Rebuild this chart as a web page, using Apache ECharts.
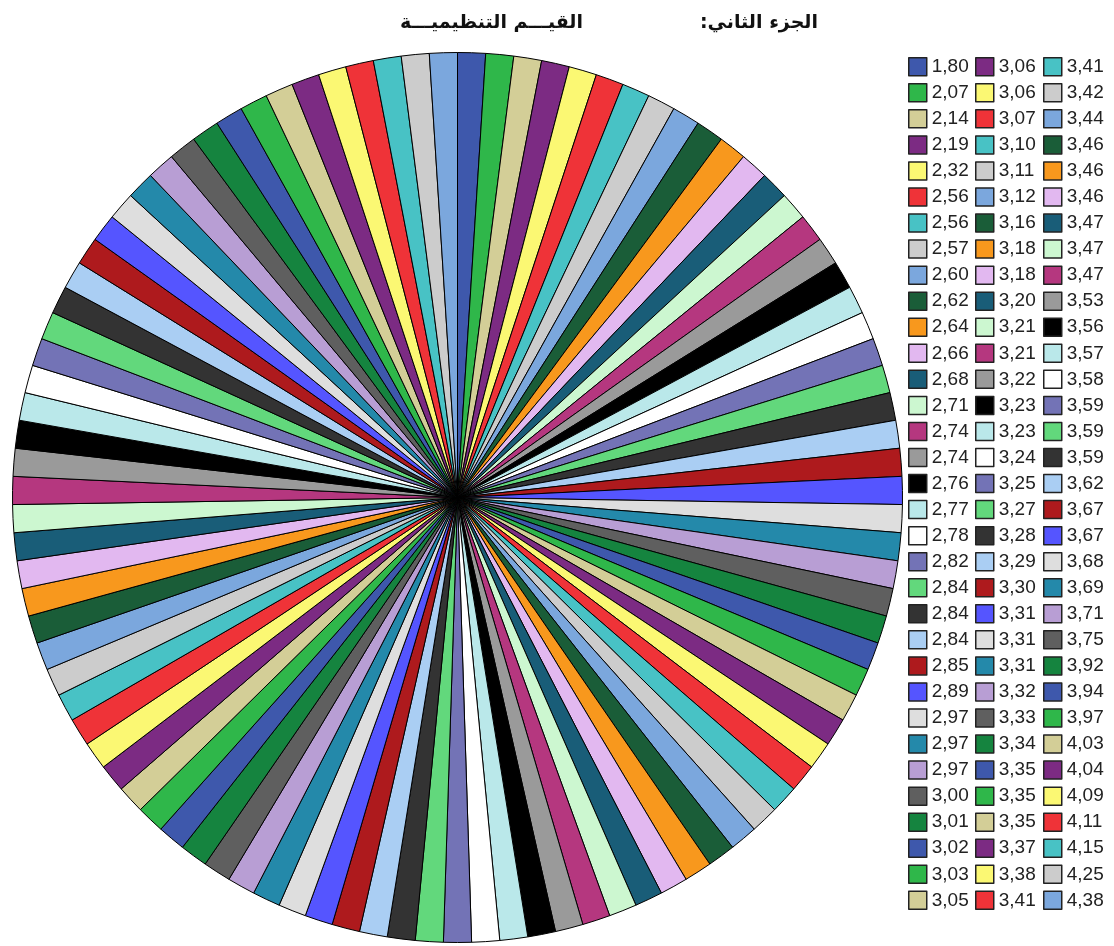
<!DOCTYPE html>
<html>
<head>
<meta charset="utf-8">
<script src="https://cdn.jsdelivr.net/npm/echarts@6/dist/echarts.min.js"></script>
<style>
html,body{margin:0;padding:0;background:#fff;}
#chart{width:1114px;height:946px;}
</style>
</head>
<body>
<div id="chart"></div>
<script>
// ---- data ----
const titleRight = "الجزء الثاني:";
const titleLeft = "القيـــم التنظيميـــة";

// values shown in the legend, in slice order (clockwise from 12 o'clock)
const values = [
  1.80, 2.07, 2.14, 2.19, 2.32, 2.56, 2.56, 2.57, 2.60, 2.62, 2.64,
  2.66, 2.68, 2.71, 2.74, 2.74, 2.76, 2.77, 2.78, 2.82, 2.84, 2.84,
  2.84, 2.85, 2.89, 2.97, 2.97, 2.97, 3.00, 3.01, 3.02, 3.03, 3.05,
  3.06, 3.06, 3.07, 3.10, 3.11, 3.12, 3.16, 3.18, 3.18, 3.20, 3.21,
  3.21, 3.22, 3.23, 3.23, 3.24, 3.25, 3.27, 3.28, 3.29, 3.30, 3.31,
  3.31, 3.31, 3.32, 3.33, 3.34, 3.35, 3.35, 3.35, 3.37, 3.38, 3.41,
  3.41, 3.42, 3.44, 3.46, 3.46, 3.46, 3.47, 3.47, 3.47, 3.53, 3.56,
  3.57, 3.58, 3.59, 3.59, 3.59, 3.62, 3.67, 3.67, 3.68, 3.69, 3.71,
  3.75, 3.92, 3.94, 3.97, 4.03, 4.04, 4.09, 4.11, 4.15, 4.25, 4.38
];
// each slice is one case (count = 1)
const counts = [
  1,1,1,1,1,1,1,1,1,1,1, 1,1,1,1,1,1,1,1,1,1,1, 1,1,1,1,1,1,1,1,1,1,1,
  1,1,1,1,1,1,1,1,1,1,1, 1,1,1,1,1,1,1,1,1,1,1, 1,1,1,1,1,1,1,1,1,1,1,
  1,1,1,1,1,1,1,1,1,1,1, 1,1,1,1,1,1,1,1,1,1,1, 1,1,1,1,1,1,1,1,1,1,1
];
// SPSS-like cycling palette (30 colours)
const palette = [
  '#3E58AC','#2FB74A','#D3CE97','#7C2B83','#FBF873','#EF3338','#48C2C5','#CCCCCC',
  '#7BA7DD','#1A5D38','#F8981D','#E2B8F0','#195D78','#CCF7D0','#B5377F','#9A9A9A',
  '#000000','#BAE8EA','#FFFFFF','#7373B6','#62D87C','#333333','#AACEF3','#AE1A1D',
  '#5555FF','#DEDEDE','#2489AA','#B89ED4','#5F5F5F','#15843F'
];
const rowsPerColumn = 33;

// ---- build ----
function fmt(v){ return v.toFixed(2).replace('.', ','); }
const seen = {};
const names = values.map(v => {
  const base = fmt(v);
  seen[base] = (seen[base] || 0) + 1;
  return base + '\u200B'.repeat(seen[base] - 1); // keep duplicate labels distinct
});
const pieData = values.map((v, i) => ({
  name: names[i],
  value: counts[i],
  itemStyle: { color: palette[i % palette.length] }
}));

const legendLefts = [908, 975, 1043];
const legends = legendLefts.map((left, c) => ({
  orient: 'vertical',
  left: left,
  top: 57,
  height: 880,
  padding: 0,
  itemWidth: 18,
  itemHeight: 18,
  itemGap: 6.55,
  icon: 'rect',
  selectedMode: false,
  itemStyle: { borderColor: '#222', borderWidth: 1.5 },
  textStyle: { fontFamily: 'Liberation Sans, Arial, sans-serif', fontSize: 19, color: '#222', lineHeight: 18 },
  formatter: n => n.replace(/\u200B/g, ''),
  data: names.slice(c * rowsPerColumn, (c + 1) * rowsPerColumn)
}));

const chart = echarts.init(document.getElementById('chart'), null, { renderer: 'canvas' });
chart.setOption({
  animation: false,
  backgroundColor: '#fff',
  title: [
    { text: '\u200F' + titleRight + '\u200F', right: 1114 - 823, top: 9,
      textStyle: { fontFamily: 'DejaVu Sans, sans-serif', fontWeight: 'bold', fontSize: 19, color: '#111' } },
    { text: '\u200F' + titleLeft + '\u200F', right: 1114 - 588, top: 9,
      textStyle: { fontFamily: 'DejaVu Sans, sans-serif', fontWeight: 'bold', fontSize: 19, color: '#111' } }
  ],
  legend: legends,
  series: [{
    type: 'pie',
    center: [457.5, 497.5],
    radius: [0, 445],
    startAngle: 90,
    clockwise: true,
    avoidLabelOverlap: false,
    label: { show: false },
    labelLine: { show: false },
    emphasis: { disabled: true },
    itemStyle: { borderColor: '#000', borderWidth: 1 },
    data: pieData
  }]
});
</script>
</body>
</html>
